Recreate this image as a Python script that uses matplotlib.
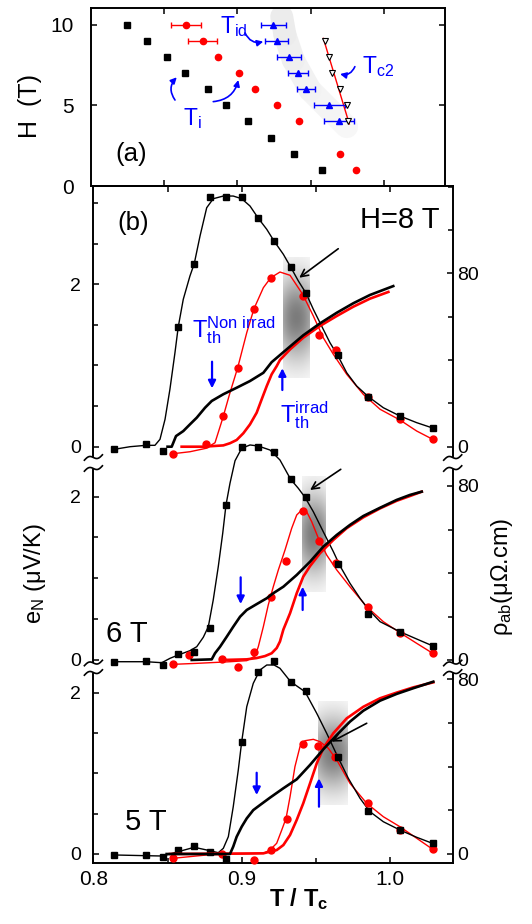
import numpy as np
import matplotlib
matplotlib.use('Agg')
import matplotlib.pyplot as plt
from matplotlib.ticker import MultipleLocator, FixedLocator, NullLocator
from matplotlib.lines import Line2D

plt.rcParams['font.family'] = ['Liberation Sans', 'DejaVu Sans']
plt.rcParams['mathtext.fontset'] = 'custom'
plt.rcParams['mathtext.rm'] = 'Liberation Sans'
plt.rcParams['mathtext.it'] = 'Liberation Sans:italic'
plt.rcParams['mathtext.bf'] = 'Liberation Sans:bold'
plt.rcParams['mathtext.sf'] = 'Liberation Sans'

# ---------------- Panel (a): H-T phase diagram ----------------
Ti_non_H = [10, 9, 8, 7, 6, 5, 4, 3, 2, 1]
Ti_non_T = [0.8246, 0.8382, 0.8518, 0.8645, 0.8800, 0.8923, 0.9075, 0.9230, 0.9389, 0.9576]
Ti_irr_H = [10, 9, 8, 7, 6, 5, 4, 2, 1]
Ti_irr_T = [0.8650, 0.8764, 0.8870, 0.9014, 0.9123, 0.9273, 0.9423, 0.9699, 0.9808]
Ti_irr_err = [0.0102, 0.0100, 0, 0, 0, 0, 0, 0, 0]
Tid_H = [10, 9, 8, 7, 6, 5, 4]
Tid_T = [0.9246, 0.9269, 0.9351, 0.9412, 0.9469, 0.9628, 0.9694]
Tid_err = [0.0083, 0.0080, 0.0082, 0.0068, 0.0061, 0.0104, 0.0101]
Tc2_H = [9, 8, 7, 6, 5, 4]
Tc2_T = [0.9598, 0.9626, 0.9644, 0.9699, 0.9746, 0.9753]
Tc2_fit_H = [9.15, 3.85]
Tc2_fit_T = [0.9587, 0.9764]
band_T = [0.9303, 0.9325, 0.9382, 0.9496, 0.9632, 0.9746]
band_H = [10.50, 9.36, 7.81, 5.95, 4.71, 3.68]

# ---------------- Panel (b): Nernst e_N and resistivity ----------------
sq_T = [0.8141, 0.8355, 0.8467, 0.8572, 0.8680, 0.8786, 0.8894, 0.9000,
        0.9112, 0.9218, 0.9330, 0.9434, 0.9647, 0.9854, 1.0067, 1.0288]

# 8 T
sq8_e = [-0.032, 0.030, -0.057, 1.474, 2.254, 3.075, 3.075, 3.075,
         2.813, 2.533, 2.213, 1.889, 1.126, 0.616, 0.378, 0.230]
ci8_T = [0.8539, 0.8759, 0.8872, 0.8973, 0.9083, 0.9196, 0.9411, 0.9521, 0.9634, 0.9854, 1.0067, 1.0288]
ci8_e = [-0.086, 0.030, 0.378, 0.973, 1.700, 2.081, 1.856, 1.376, 1.191, 0.616, 0.337, 0.091]
c8n_T = [0.8141, 0.8247, 0.8355, 0.8415, 0.8449, 0.8483, 0.8516, 0.8550, 0.8572, 0.8606, 0.8651,
         0.8680, 0.8719, 0.8764, 0.8808, 0.8876, 0.8943, 0.9000, 0.9056, 0.9112, 0.9169, 0.9218,
         0.9281, 0.9330, 0.9382, 0.9434, 0.9483, 0.9539, 0.9595, 0.9647, 0.9708, 0.9775, 0.9854,
         0.9955, 1.0067, 1.0180, 1.0288]
c8n_e = [-0.032, 0.000, 0.017, 0.017, 0.091, 0.337, 0.707, 1.158, 1.474, 1.815, 2.102,
         2.254, 2.595, 2.943, 3.054, 3.087, 3.087, 3.054, 2.964, 2.813, 2.677, 2.533,
         2.369, 2.213, 2.041, 1.889, 1.692, 1.486, 1.281, 1.126, 0.911, 0.748, 0.616,
         0.480, 0.378, 0.296, 0.230]
c8i_T = [0.8539, 0.8651, 0.8759, 0.8820, 0.8872, 0.8921, 0.8973, 0.9034, 0.9083, 0.9146, 0.9196,
         0.9258, 0.9326, 0.9411, 0.9483, 0.9550, 0.9618, 0.9708, 0.9820, 0.9933, 1.0067, 1.0180, 1.0288]
c8i_e = [-0.086, -0.062, -0.020, 0.049, 0.350, 0.665, 0.973, 1.404, 1.700, 1.958, 2.081,
         2.151, 2.111, 1.877, 1.610, 1.342, 1.138, 0.892, 0.645, 0.461, 0.329, 0.193, 0.091]
r8n_T = [0.8500, 0.8528, 0.8557, 0.8606, 0.8651, 0.8697, 0.8753, 0.8798, 0.8876, 0.8966,
         0.9056, 0.9146, 0.9202, 0.9303, 0.9415, 0.9528, 0.9641, 0.9753, 0.9865, 1.0022]
r8n = [0.0, 0.0, 4.9, 7.2, 10.3, 13.4, 18.0, 21.1, 24.2, 27.2,
       30.3, 34.1, 39.0, 44.9, 51.4, 56.9, 61.8, 66.2, 70.0, 74.1]
r8i_T = [0.8595, 0.8741, 0.8876, 0.8921, 0.8966, 0.9011, 0.9056, 0.9101, 0.9135, 0.9169,
         0.9202, 0.9236, 0.9258, 0.9326, 0.9415, 0.9528, 0.9641, 0.9753, 0.9865, 0.9989]
r8i = [0.0, 0.0, 0.6, 1.6, 3.1, 6.2, 10.3, 15.7, 21.9, 28.0,
       33.4, 37.2, 40.0, 44.9, 50.3, 55.7, 60.3, 64.6, 68.3, 71.4]

# 6 T
sq6_e = [-0.021, -0.009, -0.061, 0.073, 0.102, 0.388, 1.897, 2.611,
         2.611, 2.542, 2.212, 1.999, 1.175, 0.563, 0.346, 0.175]
ci6_T = [0.8539, 0.8647, 0.8869, 0.8973, 0.9083, 0.9196, 0.9299, 0.9411, 0.9521, 0.9634, 0.9854, 1.0067, 1.0288]
ci6_e = [-0.053, 0.061, 0.009, -0.089, 0.094, 0.775, 1.215, 1.827, 1.460, 1.191, 0.645, 0.327, 0.082]
c6n_T = [0.8141, 0.8355, 0.8461, 0.8517, 0.8572, 0.8651, 0.8697, 0.8741, 0.8775, 0.8808, 0.8842,
         0.8872, 0.8894, 0.8921, 0.8955, 0.9000, 0.9056, 0.9112, 0.9191, 0.9258, 0.9330, 0.9382,
         0.9427, 0.9483, 0.9550, 0.9618, 0.9663, 0.9730, 0.9798, 0.9854, 0.9933, 1.0067, 1.0180, 1.0285]
c6n_e = [-0.021, -0.021, -0.033, 0.021, 0.061, 0.114, 0.163, 0.278, 0.408, 0.734, 1.142,
         1.551, 1.897, 2.163, 2.439, 2.591, 2.632, 2.619, 2.570, 2.448, 2.212, 2.101,
         1.991, 1.815, 1.570, 1.326, 1.151, 0.939, 0.755, 0.620, 0.469, 0.346, 0.257, 0.175]
c6i_T = [0.8539, 0.8697, 0.8921, 0.9034, 0.9090, 0.9112, 0.9146, 0.9179, 0.9213, 0.9247, 0.9292,
         0.9337, 0.9371, 0.9405, 0.9438, 0.9472, 0.9517, 0.9573, 0.9641, 0.9730, 0.9843, 0.9955,
         1.0067, 1.0180, 1.0288]
c6i_e = [-0.053, -0.041, -0.021, -0.008, 0.049, 0.163, 0.408, 0.673, 0.897, 1.102, 1.346,
         1.612, 1.775, 1.836, 1.815, 1.693, 1.490, 1.285, 1.102, 0.897, 0.652, 0.469,
         0.334, 0.204, 0.082]
r6n_T = [0.8663, 0.8798, 0.8820, 0.8854, 0.8899, 0.8943, 0.8989, 0.9034, 0.9101, 0.9169, 0.9213,
         0.9281, 0.9371, 0.9461, 0.9550, 0.9641, 0.9730, 0.9820, 0.9933, 1.0045, 1.0135, 1.0214]
r6n = [0.0, 0.3, 3.1, 6.1, 10.7, 15.3, 19.9, 23.0, 25.7, 28.4, 30.7,
       33.7, 39.1, 45.2, 52.1, 57.5, 62.1, 66.2, 70.0, 73.6, 75.9, 77.4]
r6i_T = [0.8865, 0.9034, 0.9101, 0.9157, 0.9202, 0.9236, 0.9258, 0.9281, 0.9326, 0.9371,
         0.9415, 0.9461, 0.9528, 0.9618, 0.9708, 0.9820, 0.9933, 1.0045, 1.0135, 1.0214]
r6i = [0.0, 0.3, 0.9, 1.8, 3.1, 5.5, 8.5, 14.0, 21.5, 30.7,
       38.3, 43.2, 49.1, 55.2, 60.6, 65.6, 69.7, 73.2, 75.4, 77.4]

# 5 T
sq5_e = [-0.012, -0.012, -0.033, 0.050, 0.099, 0.029, -0.066, 1.392,
         2.259, 2.395, 2.135, 2.024, 1.206, 0.533, 0.297, 0.133]
ci5_T = [0.8539, 0.8865, 0.9085, 0.9196, 0.9303, 0.9411, 0.9517, 0.9629, 0.9854, 1.0067, 1.0288]
ci5_e = [-0.053, 0.000, -0.074, 0.050, 0.430, 1.359, 1.342, 1.198, 0.628, 0.297, 0.058]
c5n_T = [0.8141, 0.8355, 0.8467, 0.8572, 0.8680, 0.8786, 0.8842, 0.8876, 0.8910, 0.8943, 0.8977,
         0.9000, 0.9034, 0.9078, 0.9123, 0.9169, 0.9218, 0.9258, 0.9330, 0.9427, 0.9506, 0.9573,
         0.9645, 0.9719, 0.9798, 0.9865, 0.9955, 1.0067, 1.0180, 1.0285]
c5n_e = [-0.012, -0.021, -0.025, 0.029, 0.083, 0.041, 0.016, 0.070, 0.215, 0.586, 1.041,
         1.392, 1.825, 2.115, 2.280, 2.342, 2.342, 2.301, 2.135, 2.011, 1.743, 1.496,
         1.214, 0.938, 0.690, 0.524, 0.400, 0.297, 0.207, 0.133]
c5i_T = [0.8539, 0.8764, 0.8989, 0.9146, 0.9191, 0.9236, 0.9270, 0.9299, 0.9326, 0.9359, 0.9393,
         0.9427, 0.9483, 0.9528, 0.9584, 0.9641, 0.9730, 0.9843, 0.9955, 1.0067, 1.0180, 1.0288]
c5i_e = [-0.053, -0.012, 0.000, 0.008, 0.050, 0.133, 0.297, 0.442, 0.710, 1.082, 1.330,
         1.404, 1.421, 1.392, 1.310, 1.165, 0.876, 0.628, 0.462, 0.338, 0.195, 0.058]
r5n_T = [0.8494, 0.8921, 0.8943, 0.8966, 0.9000, 0.9034, 0.9078, 0.9123, 0.9191, 0.9281,
         0.9371, 0.9461, 0.9550, 0.9641, 0.9730, 0.9820, 0.9933, 1.0045, 1.0157, 1.0292]
r5n = [0.0, 0.0, 3.4, 7.9, 12.5, 16.3, 20.1, 22.4, 25.8, 30.1,
       34.2, 40.8, 47.9, 54.5, 60.6, 65.6, 70.2, 73.3, 75.9, 78.9]
r5i_T = [0.8516, 0.9146, 0.9191, 0.9236, 0.9281, 0.9326, 0.9371, 0.9415, 0.9461,
         0.9506, 0.9550, 0.9618, 0.9708, 0.9820, 0.9933, 1.0045, 1.0157, 1.0292]
r5i = [0.0, 0.3, 1.1, 1.8, 4.1, 8.7, 15.6, 23.2, 32.4,
       41.5, 48.4, 55.3, 62.1, 67.4, 71.3, 73.9, 76.3, 78.6]

field_labels = ['H=8 T', '6 T', '5 T']

# ---------------- Figure ----------------
W, H = 532, 924
fig = plt.figure(figsize=(W / 100, H / 100), dpi=100)


def rect(x0, y0, x1, y1):
    return [x0 / W, 1 - y1 / H, (x1 - x0) / W, (y1 - y0) / H]


BLUE = '#0000ff'
RED = '#ff0000'
SPW = 1.4

# ---- panel (a)
ax_a = fig.add_axes(rect(90.7, 8, 445, 186))
ax_a.set_xlim(0.8, 0.8 + (445 - 90.7) / 1466)
ax_a.set_ylim(0, (186 - 8) / 16.13)
bT = np.array(band_T); bH = np.array(band_H)
for k in range(len(bT) - 1):
    g = 0.925 + 0.045 * k / (len(bT) - 2)
    ax_a.plot(bT[k:k + 2], bH[k:k + 2], color=(g, g, g), lw=16.5,
              solid_capstyle='round', zorder=0 + 0.01 * (len(bT) - k))
ax_a.plot(Ti_non_T, Ti_non_H, 's', color='k', ms=3.8, zorder=3)
tT = np.array(Ti_irr_T); tH = np.array(Ti_irr_H); tE = np.array(Ti_irr_err)
m = tE > 0
ax_a.errorbar(tT[m], tH[m], xerr=tE[m], fmt='o', color=RED, ms=4.5,
              elinewidth=1, capsize=2.5, capthick=1, zorder=3)
ax_a.plot(tT[~m], tH[~m], 'o', color=RED, ms=4.5, zorder=3)
ax_a.errorbar(Tid_T, Tid_H, xerr=Tid_err, fmt='^', color=BLUE, ms=4.8,
              elinewidth=1, capsize=2.5, capthick=1, zorder=3)
ax_a.plot(Tc2_fit_T, Tc2_fit_H, '-', color=RED, lw=1.0, zorder=2)
ax_a.plot(Tc2_T, Tc2_H, 'v', mfc='white', mec='black', mew=0.8, ms=4.8, zorder=3)

ax_a.text(0.8882, 9.49, r'T$_{\mathrm{id}}$', color=BLUE, fontsize=16.5, ha='left', va='baseline')
ax_a.text(0.9849, 7.0, r'T$_{\mathrm{c2}}$', color=BLUE, fontsize=16.5, ha='left', va='baseline')
ax_a.text(0.8630, 3.78, r'T$_{\mathrm{i}}$', color=BLUE, fontsize=16.5, ha='left', va='baseline')
ax_a.text(0.8278, 2.0, '(a)', fontsize=18.5, ha='center', va='center')
arr_a = dict(arrowstyle='-|>', color=BLUE, lw=1.2, mutation_scale=9, shrinkA=0, shrinkB=0)
ax_a.annotate('', xy=(0.9177, 8.95), xytext=(0.9053, 9.49),
              arrowprops=dict(connectionstyle='arc3,rad=0.4', **arr_a))
ax_a.annotate('', xy=(0.9701, 6.94), xytext=(0.9802, 7.40),
              arrowprops=dict(connectionstyle='arc3,rad=-0.4', **arr_a))
ax_a.annotate('', xy=(0.8587, 6.74), xytext=(0.8575, 5.33),
              arrowprops=dict(connectionstyle='arc3,rad=-0.4', **arr_a))
ax_a.annotate('', xy=(0.9007, 6.57), xytext=(0.8836, 5.23),
              arrowprops=dict(connectionstyle='arc3,rad=0.35', **arr_a))

ax_a.set_yticks([0, 5, 10])
ax_a.set_xticks([0.85, 0.9, 0.95, 1.0])
ax_a.tick_params(axis='x', direction='in', top=True, bottom=True, labelbottom=False,
                 length=4, width=1.1)
ax_a.tick_params(axis='y', direction='in', left=True, right=True, labelsize=15,
                 pad=12, length=4, width=1.1)
for s in ax_a.spines.values():
    s.set_linewidth(SPW)

# ---- panel (b) stack
X0B, X1B = 93.4, 452.7
xlim_b = (0.8, 0.8 + (X1B - X0B) / 1483)
layout = [
    dict(top=186, bot=456, zero=446.7, epx=81.2, rpx=2.1675),
    dict(top=470, bot=662, zero=660.0, epx=81.7, rpx=2.175),
    dict(top=674, bot=863, zero=854.0, epx=80.7, rpx=2.184),
]
series = [
    dict(sq=sq8_e, ciT=ci8_T, ci=ci8_e, cnT=c8n_T, cn=c8n_e, ciiT=c8i_T, cii=c8i_e,
         rnT=r8n_T, rn=r8n, riT=r8i_T, ri=r8i),
    dict(sq=sq6_e, ciT=ci6_T, ci=ci6_e, cnT=c6n_T, cn=c6n_e, ciiT=c6i_T, cii=c6i_e,
         rnT=r6n_T, rn=r6n, riT=r6i_T, ri=r6i),
    dict(sq=sq5_e, ciT=ci5_T, ci=ci5_e, cnT=c5n_T, cn=c5n_e, ciiT=c5i_T, cii=c5i_e,
         rnT=r5n_T, rn=r5n, riT=r5i_T, ri=r5i),
]
deco = [
    dict(rect=(0.9281, 0.9461, 0.850, 2.328), down=(0.8800, 1.047, 0.719), up=(0.9274, 0.698, 0.966),
         black=((0.9651, 2.438), (0.9388, 2.081)), label=(1.0337, 2.697, 'right')),
    dict(rect=(0.9405, 0.9562, 0.836, 2.244), down=(0.8993, 1.012, 0.685), up=(0.9411, 0.612, 0.897),
         black=((0.9668, 2.334), (0.9461, 2.081)), label=(0.8085, 0.224, 'left')),
    dict(rect=(0.9517, 0.9719, 0.607, 1.887), down=(0.9101, 1.007, 0.731), up=(0.9521, 0.586, 0.938),
         black=((0.9843, 1.620), (0.9607, 1.392)), label=(0.8213, 0.297, 'left')),
]


def shade(ax, x0, x1, y0, y1):
    ny, nx = 90, 24
    v = np.linspace(-1, 1, ny)[:, None]
    u = np.linspace(-1, 1, nx)[None, :]
    alpha = 0.52 * np.exp(-(v / 0.7) ** 2) * (1 - 0.3 * u ** 2)
    img = np.zeros((ny, nx, 4))
    img[..., 3] = alpha
    ax.imshow(img, extent=(x0, x1, y0, y1), aspect='auto', origin='lower',
              interpolation='bilinear', zorder=0.5)


axes_b = []
for i, (L, S, D) in enumerate(zip(layout, series, deco)):
    ax = fig.add_axes(rect(X0B, L['top'], X1B, L['bot']))
    ax.patch.set_visible(False)
    tw = ax.twinx()
    tw.patch.set_visible(False)
    elim = (-(L['bot'] - L['zero']) / L['epx'], (L['zero'] - L['top']) / L['epx'])
    rlim = (-(L['bot'] - L['zero']) / L['rpx'], (L['zero'] - L['top']) / L['rpx'])

    shade(ax, *D['rect'])
    ax.plot(S['ciiT'], S['cii'], '-', color=RED, lw=1.0, clip_on=False, zorder=2)
    ax.plot(S['ciT'], S['ci'], 'o', color=RED, ms=5.0, clip_on=False, zorder=3)
    ax.plot(S['cnT'], S['cn'], '-', color='k', lw=1.0, clip_on=False, zorder=2)
    ax.plot(sq_T, S['sq'], 's', color='k', ms=4.3, clip_on=False, zorder=3)

    tw.plot(S['riT'], S['ri'], '-', color=RED, lw=1.9, clip_on=False, zorder=2)
    tw.plot(S['rnT'], S['rn'], '-', color='k', lw=1.9, clip_on=False, zorder=3)

    ax.set_xlim(*xlim_b)
    ax.set_ylim(*elim)
    tw.set_ylim(*rlim)

    # annotations
    dx, dt, dh = D['down']
    ax.annotate('', xy=(dx, dh), xytext=(dx, dt), annotation_clip=False,
                arrowprops=dict(arrowstyle='-|>', color=BLUE, lw=1.6, mutation_scale=11,
                                shrinkA=0, shrinkB=0))
    ux, ut, uh = D['up']
    ax.annotate('', xy=(ux, uh), xytext=(ux, ut), annotation_clip=False,
                arrowprops=dict(arrowstyle='-|>', color=BLUE, lw=1.6, mutation_scale=11,
                                shrinkA=0, shrinkB=0))
    (bx0, by0), (bx1, by1) = D['black']
    ax.annotate('', xy=(bx1, by1), xytext=(bx0, by0), annotation_clip=False,
                arrowprops=dict(arrowstyle='->', color='k', lw=1.2, mutation_scale=13,
                                shrinkA=0, shrinkB=0), zorder=6)
    lx, ly, lha = D['label']
    ax.text(lx, ly, field_labels[i], fontsize=21, ha=lha, va='baseline')

    # spines
    for s in ['top', 'bottom', 'right']:
        ax.spines[s].set_visible(False)
    for s in ['top', 'bottom', 'left']:
        tw.spines[s].set_visible(False)
    ax.spines['left'].set_linewidth(SPW)
    tw.spines['right'].set_linewidth(SPW)

    ax.yaxis.set_major_locator(FixedLocator([0, 2]))
    ax.yaxis.set_minor_locator(MultipleLocator(0.5))
    tw.yaxis.set_major_locator(FixedLocator([0, 80]))
    tw.yaxis.set_minor_locator(MultipleLocator(20))
    ax.tick_params(axis='y', which='both', direction='in', left=True, right=False,
                   labelsize=14, pad=9, width=1.1)
    ax.tick_params(axis='y', which='major', length=4.5)
    ax.tick_params(axis='y', which='minor', length=3.5)
    tw.tick_params(axis='y', which='both', direction='in', right=True, left=False,
                   labelsize=14, pad=3.5, width=1.1)
    tw.tick_params(axis='y', which='major', length=4.5)
    tw.tick_params(axis='y', which='minor', length=3.5)

    ax.xaxis.set_major_locator(NullLocator())
    ax.xaxis.set_minor_locator(NullLocator())
    tw.xaxis.set_major_locator(NullLocator())
    if i == 0:
        ax.spines['top'].set_visible(True)
        ax.spines['top'].set_linewidth(SPW)
        ax.xaxis.set_major_locator(FixedLocator([0.85, 0.9, 0.95, 1.0]))
        ax.tick_params(axis='x', direction='in', top=True, bottom=False,
                       labeltop=False, labelbottom=False, length=4, width=1.1)
    if i == 2:
        ax.spines['bottom'].set_visible(True)
        ax.spines['bottom'].set_linewidth(SPW)
        ax.xaxis.set_major_locator(FixedLocator([0.8, 0.9, 1.0]))
        ax.xaxis.set_minor_locator(FixedLocator([0.85, 0.95]))
        ax.set_xticklabels(['0.8', '0.9', '1.0'])
        ax.tick_params(axis='x', which='both', direction='in', bottom=True, top=False,
                       labelsize=15, pad=5, width=1.1)
        ax.tick_params(axis='x', which='major', length=4.5)
        ax.tick_params(axis='x', which='minor', length=3.5)
    axes_b.append(ax)

# T_th labels in the 8 T panel
ax8 = axes_b[0]
ax8.text(0.8663, 1.351, r'T$_{\mathrm{th}}^{\mathrm{Non\ irrad}}$', color=BLUE,
         fontsize=17, ha='left', va='baseline')
ax8.text(0.9258, 0.304, r'T$_{\mathrm{th}}^{\mathrm{irrad}}$', color=BLUE,
         fontsize=17, ha='left', va='baseline')
ax8.text(0.8267, 2.759, '(b)', fontsize=18.5, ha='center', va='center')


# axis break marks
def brk(xc, yc):
    dx = np.linspace(-9, 9, 40)
    t = np.linspace(0, 2 * np.pi, 40)
    yy = yc - 0.3 * dx - 2.2 * np.sin(t)
    fig.add_artist(Line2D((xc + dx) / W, 1 - yy / H, color='k', lw=1.2,
                          transform=fig.transFigure))


for (ya, yb) in [(457.5, 468.5), (663.0, 672.5)]:
    for xc in (X0B, X1B):
        brk(xc, ya)
        brk(xc, yb)

# axis labels
fig.text(30 / W, 1 - 106 / H, 'H  (T)', fontsize=18, rotation=90, ha='center', va='center')
fig.text(35 / W, 1 - 574 / H, r'e$_{\mathrm{N}}$ (μV/K)', fontsize=17, rotation=90,
         ha='center', va='center')
fig.text(502 / W, 1 - 577 / H, r'ρ$_{\mathrm{ab}}$(μΩ.cm)', fontsize=17, rotation=90,
         ha='center', va='center')
fig.text(298.5 / W, 1 - 899 / H, r'T / T$_{\mathbf{c}}$', fontsize=17, fontweight='bold',
         ha='center', va='center')

fig.savefig('out.png', dpi=100)
